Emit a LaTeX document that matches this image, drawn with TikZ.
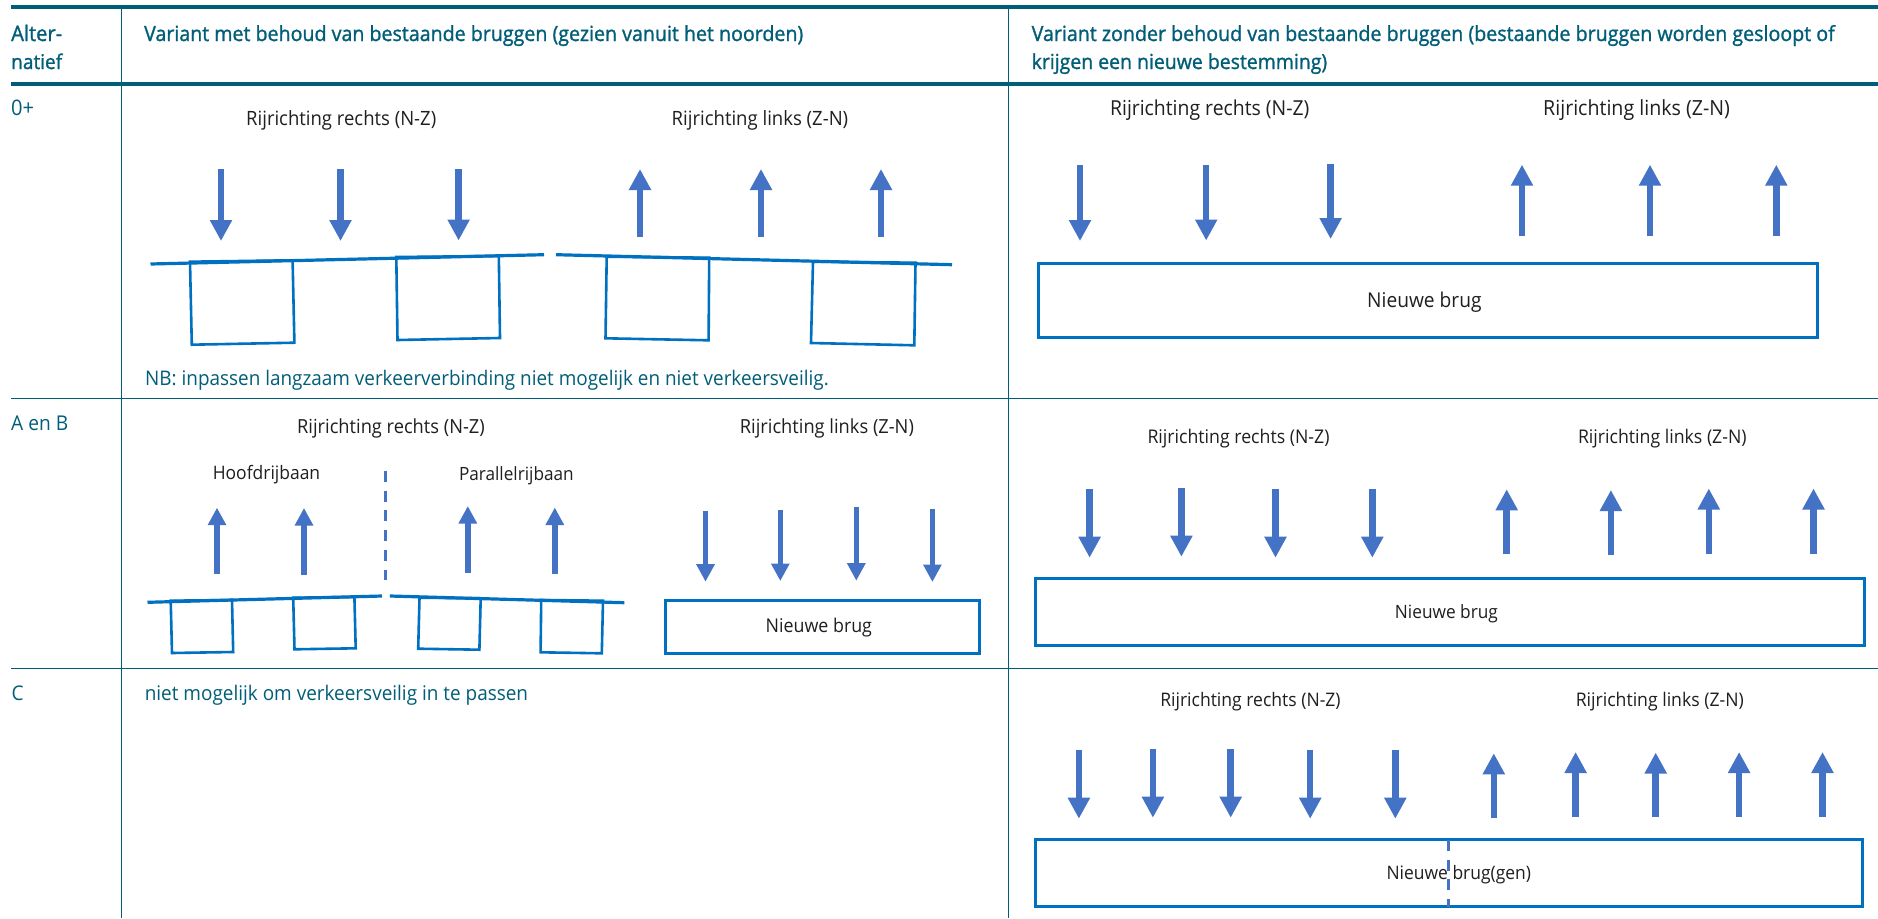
\documentclass[tikz,border=0pt]{standalone}
\usepackage{fontspec}
\usepackage{graphicx}
\usetikzlibrary{arrows.meta}
\newfontfamily\bodyf[FakeStretch=0.94]{Open Sans}
\newfontfamily\headf[FakeStretch=0.94,FakeBold=1.2]{Open Sans}
\definecolor{teal}{HTML}{005E78}
\definecolor{arrowblue}{HTML}{4472C4}
\definecolor{bridge}{HTML}{0070C0}
\newcommand{\fitw}[2]{\resizebox{#1pt}{!}{\fontsize{17}{20}\selectfont #2}}
\tikzset{
  rule/.style={draw=teal,line width=1.3pt},
  thick rule/.style={draw=teal,line width=4pt},
  lbl/.style={anchor=base west,inner sep=0pt,text=black!88,font=\bodyf},
  tlbl/.style={anchor=base west,inner sep=0pt,text=teal,font=\bodyf},
  hlbl/.style={anchor=base west,inner sep=0pt,text=teal,font=\headf},
  big arrow/.style={draw=arrowblue,line width=6.5pt,-{Triangle[length=21pt,width=21pt,fill=arrowblue]}},
  small arrow/.style={draw=arrowblue,line width=5.5pt,-{Triangle[length=17.5pt,width=17.5pt,fill=arrowblue]}},
  deck/.style={draw=bridge,line width=3.2pt},
  pier/.style={draw=bridge,line width=2.6pt,line join=miter},
  newbridge/.style={draw=bridge,line width=3pt},
  divider/.style={draw=arrowblue,line width=3pt,dash pattern=on 11pt off 8.7pt},
}
\begin{document}
\begin{tikzpicture}[x=1pt,y=-1pt]
\useasboundingbox (0,0) rectangle (1878,918);
\fill[white] (0,0) rectangle (1878,918);
% table rules
\draw[thick rule] (11,6.5) -- (1878,6.5);
\draw[thick rule] (11,83.5) -- (1878,83.5);
\draw[rule] (11,398.2) -- (1878,398.2);
\draw[rule] (11,668.3) -- (1878,668.3);
\draw[rule] (121.3,6) -- (121.3,918);
\draw[rule,line width=1pt] (1008.3,6) -- (1008.3,918);
% table text
\node[hlbl] (h0a) at (11,41) {\fitw{51}{Alter-}};
\node[hlbl] (h0b) at (11,69) {\fitw{51}{natief}};
\node[hlbl] (h1) at (144,41) {\fitw{659}{Variant met behoud van bestaande bruggen (gezien vanuit het noorden)}};
\node[hlbl] (h2a) at (1031.5,41) {\fitw{803}{Variant zonder behoud van bestaande bruggen (bestaande bruggen worden gesloopt of}};
\node[hlbl] (h2b) at (1031.5,69) {\fitw{295.5}{krijgen een nieuwe bestemming)}};
\node[tlbl] (r1) at (11,115) {\fitw{23}{0+}};
\node[tlbl] (r2) at (11,430.7) {\fitw{57}{A en B}};
\node[tlbl] (r3) at (11.4,700) {\fitw{12}{C}};
\node[tlbl] (nb) at (145,385) {\fitw{683.5}{NB: inpassen langzaam verkeerverbinding niet mogelijk en niet verkeersveilig.}};
\node[tlbl] (cn) at (144.6,700) {\fitw{383.3}{niet mogelijk om verkeersveilig in te passen}};
% row 0+ left
\node[lbl] (a1) at (246,125) {\fitw{190}{Rijrichting rechts (N-Z)}};
\node[lbl] (a2) at (671.5,125) {\fitw{176.5}{Rijrichting links (Z-N)}};
\foreach \x/\a/\b in {221/169/241,340.5/169/241,458.6/169/240.5,640/237/169,761/237/169,881/237/169}
  \draw[big arrow] (\x,\a) -- (\x,\b);
\draw[deck] (150.5,264) -- (544,254.7);
\draw[deck] (556,254.7) -- (952,264.7);
\draw[pier] (190,261.7) -- (292.6,260.3) -- (294.4,342.7) -- (191.8,344.7) -- cycle;
\draw[pier] (396.3,257) -- (498.8,256) -- (500,338) -- (397.5,340) -- cycle;
\draw[pier] (606.7,256.7) -- (709.2,257.7) -- (708.6,340.3) -- (605.5,338.3) -- cycle;
\draw[pier] (813,261.7) -- (915.5,262.7) -- (914.3,345.3) -- (811,343) -- cycle;
% row 0+ right
\node[lbl] (b1) at (1109.9,115.7) {\fitw{199.2}{Rijrichting rechts (N-Z)}};
\node[lbl] (b2) at (1543,115.7) {\fitw{186.7}{Rijrichting links (Z-N)}};
\foreach \x/\a/\b in {1080/165/241,1206.2/165/240.5,1330.6/164/239,1522/236/164.7,1650/236/164.7,1776.3/236/164.7}
  \draw[big arrow] (\x,\a) -- (\x,\b);
\draw[newbridge] (1038.7,263) rectangle (1817,337.7);
\node[lbl] (b3) at (1367,307) {\fitw{114.3}{Nieuwe brug}};
% row A en B left
\node[lbl] (c1) at (297,433) {\fitw{187.5}{Rijrichting rechts (N-Z)}};
\node[lbl] (c2) at (739.7,433) {\fitw{174}{Rijrichting links (Z-N)}};
\node[lbl] (c3) at (212.6,479) {\fitw{107.4}{Hoofdrijbaan}};
\node[lbl] (c4) at (458.8,480.7) {\fitw{114.7}{Parallelrijbaan}};
\draw[divider] (385.3,471) -- (385.3,580);
\foreach \x/\a/\b in {217/574/507.7,304/575/508,467.8/573/506,554.8/574/507.5,705.5/510.7/581.7,780.3/510/581,856.3/507/580.7,932.4/508.7/582}
  \draw[small arrow] (\x,\a) -- (\x,\b);
\draw[deck] (147.5,602.3) -- (382,596);
\draw[deck] (389.8,596) -- (624.4,602.7);
\draw[pier] (170.7,600.7) -- (232,600) -- (233.2,652) -- (172,653) -- cycle;
\draw[pier] (293.2,597.7) -- (354.4,597) -- (355.7,648.3) -- (294.5,649.3) -- cycle;
\draw[pier] (419.5,597.7) -- (480.7,598.3) -- (479.4,649.7) -- (418.2,648.7) -- cycle;
\draw[pier] (541.2,600) -- (603,600.7) -- (601.8,653.3) -- (540.6,652.3) -- cycle;
\draw[newbridge] (665.6,600) rectangle (979.4,653);
\node[lbl] (c5) at (765.5,632.7) {\fitw{106.3}{Nieuwe brug}};
% row A en B right
\node[lbl] (d1) at (1147.3,443.3) {\fitw{182}{Rijrichting rechts (N-Z)}};
\node[lbl] (d2) at (1577.8,443.3) {\fitw{168.6}{Rijrichting links (Z-N)}};
\foreach \x/\a/\b in {1089.6/489.3/557.7,1181.4/488/556.7,1275.5/489.3/557.7,1372.3/488.7/557.7,1506.7/553.7/489.3,1610.9/555/490,1708.8/553.7/488.5,1813.5/553.7/488.5}
  \draw[big arrow] (\x,\a) -- (\x,\b);
\draw[newbridge] (1035.3,578.3) rectangle (1864,645.7);
\node[lbl] (d3) at (1394.7,618.3) {\fitw{103}{Nieuwe brug}};
% row C right
\node[lbl] (e1) at (1160.1,706.7) {\fitw{180.3}{Rijrichting rechts (N-Z)}};
\node[lbl] (e2) at (1575.6,706.7) {\fitw{168}{Rijrichting links (Z-N)}};
\foreach \x/\a/\b in {1078.9/750/818.7,1152.9/749/817.7,1230.7/749/817.7,1310.2/750/818.7,1395.3/750/818.7,1493.8/818/753.3,1575.6/816.7/752,1655.7/816.7/752.5,1739.1/816.7/752,1822.5/816.7/752}
  \draw[big arrow] (\x,\a) -- (\x,\b);
\draw[newbridge] (1035.3,839.3) rectangle (1862.8,906.7);
\node[lbl] (e3) at (1386.3,879.3) {\fitw{144.5}{Nieuwe brug(gen)}};
\draw[divider] (1448.5,840) -- (1448.5,907);
\end{tikzpicture}
\end{document}
